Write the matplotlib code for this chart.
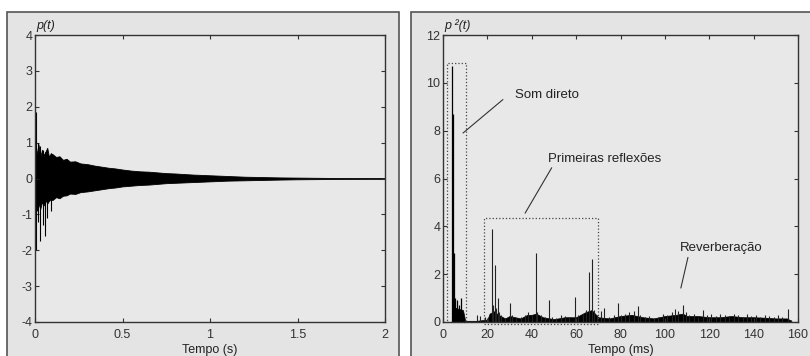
import matplotlib
matplotlib.use("Agg")
import matplotlib.pyplot as plt
from matplotlib.patches import Rectangle

plt.rcParams['font.family'] = ['Liberation Sans', 'DejaVu Sans']
plt.rcParams['axes.unicode_minus'] = False

# ---------------- Left panel data: p(t) impulse response envelope ----------------
t_env = [0, 0.01, 0.02, 0.03, 0.04, 0.05, 0.06, 0.07, 0.08, 0.09, 0.1, 0.12, 0.14,
         0.16, 0.18, 0.2, 0.23, 0.26, 0.3, 0.34, 0.38, 0.42, 0.46, 0.5, 0.55, 0.6,
         0.65, 0.7, 0.75, 0.8, 0.9, 1.0, 1.1, 1.2, 1.3, 1.4, 1.5, 1.6, 1.7, 1.8, 1.9, 2.0]
p_upper = [0.55, 0.7, 0.95, 0.6, 0.8, 0.65, 0.75, 0.85, 0.6, 0.7, 0.68, 0.6, 0.62,
           0.52, 0.55, 0.47, 0.48, 0.42, 0.4, 0.36, 0.33, 0.3, 0.28, 0.25, 0.22, 0.2,
           0.19, 0.17, 0.15, 0.14, 0.11, 0.09, 0.07, 0.05, 0.04, 0.03, 0.025, 0.02,
           0.015, 0.01, 0.008, 0.005]
p_lower = [-0.6, -0.9, -0.7, -0.85, -0.65, -0.75, -0.6, -0.7, -0.62, -0.58, -0.6, -0.52,
           -0.55, -0.48, -0.47, -0.42, -0.43, -0.38, -0.36, -0.33, -0.3, -0.27, -0.25,
           -0.22, -0.2, -0.18, -0.17, -0.15, -0.13, -0.12, -0.1, -0.08, -0.06, -0.05,
           -0.04, -0.03, -0.022, -0.018, -0.013, -0.01, -0.007, -0.005]
spike_t = [0.008, 0.018, 0.03, 0.045, 0.057, 0.07, 0.09]
spike_low = [-2.0, -1.2, -1.75, -1.3, -1.6, -1.1, -0.9]
spike_high = [1.85, 1.0, 0.9, 0.8, 0.75, 0.85, 0.7]

left_xticks = [0, 0.5, 1, 1.5, 2]
left_xticklabels = ["0", "0.5", "1", "1.5", "2"]
left_yticks = [-4, -3, -2, -1, 0, 1, 2, 3, 4]

# ---------------- Right panel data: p^2(t) ----------------
direct_t = [4.2, 4.6, 5.0, 5.5, 6.0, 6.5, 7.0, 7.5, 8.0, 8.5, 9.0]
direct_h = [10.7, 8.7, 2.9, 1.0, 0.6, 0.9, 0.7, 0.5, 1.0, 0.4, 0.3]

refl_t = [13, 15.5, 16.5, 19, 20.5, 21.9, 22.4, 23.4, 24.0, 24.6, 25.3, 26, 28, 30.2,
          31, 33, 35, 37, 38.5, 40, 41.7, 42.5, 44, 46, 47.7, 49, 51, 53, 55, 57, 59.5,
          61, 63, 64.5, 65.8, 67.0, 68, 69.5, 71, 72.5, 75, 77, 78.8, 80, 82, 84, 86,
          87.8, 89, 91, 93, 95, 97, 99, 101, 103, 104.5, 106, 108, 109.5, 111, 113,
          115, 117, 119, 121, 123, 125, 127, 129, 131, 133, 135, 137, 139, 141, 143,
          145, 147, 149, 151, 153, 155.4, 157]
refl_h = [0.05, 0.3, 0.25, 0.2, 0.15, 3.88, 0.7, 2.38, 0.6, 1.0, 0.4, 0.3, 0.15, 0.8,
          0.3, 0.15, 0.2, 0.3, 0.4, 0.3, 2.9, 0.4, 0.3, 0.2, 0.9, 0.2, 0.15, 0.3, 0.25,
          0.2, 1.03, 0.3, 0.35, 0.5, 2.1, 2.62, 0.5, 0.3, 0.45, 0.6, 0.2, 0.3, 0.8,
          0.3, 0.35, 0.4, 0.45, 0.65, 0.3, 0.2, 0.25, 0.15, 0.2, 0.35, 0.3, 0.4, 0.55,
          0.45, 0.7, 0.4, 0.3, 0.35, 0.2, 0.5, 0.3, 0.35, 0.25, 0.35, 0.3, 0.25, 0.35,
          0.3, 0.2, 0.35, 0.25, 0.3, 0.2, 0.3, 0.25, 0.2, 0.3, 0.2, 0.54, 0.1]

floor_t = [4, 5, 9, 10, 15, 20, 21, 23, 25, 28, 30, 35, 38, 40, 42, 45, 50, 55, 60, 64,
           67, 70, 75, 80, 85, 90, 95, 100, 105, 108, 110, 115, 120, 125, 130, 135,
           140, 145, 150, 155, 157]
floor_h = [0.8, 0.6, 0.5, 0.05, 0.05, 0.1, 0.35, 0.45, 0.3, 0.15, 0.25, 0.15, 0.3, 0.3,
           0.35, 0.2, 0.12, 0.2, 0.2, 0.4, 0.5, 0.2, 0.15, 0.25, 0.3, 0.2, 0.15, 0.25,
           0.3, 0.35, 0.25, 0.25, 0.2, 0.2, 0.25, 0.2, 0.2, 0.18, 0.15, 0.15, 0.05]

right_xticks = [0, 20, 40, 60, 80, 100, 120, 140, 160]
right_yticks = [0, 2, 4, 6, 8, 10, 12]

# ---------------- Figure ----------------
W, H = 810, 356
fig = plt.figure(figsize=(W / 100, H / 100), dpi=100, facecolor='white')

bg = '#e4e4e4'
# panel boxes (behind the axes)
fig.patches.append(Rectangle((7 / W, -0.01), 392 / W, (H - 12) / H + 0.01,
                             transform=fig.transFigure, facecolor=bg,
                             edgecolor='#555555', linewidth=1.2, zorder=-5))
fig.patches.append(Rectangle((411 / W, -0.01), 400 / W, (H - 12) / H + 0.01,
                             transform=fig.transFigure, facecolor=bg,
                             edgecolor='#555555', linewidth=1.2, zorder=-5))

axL = fig.add_axes([35 / W, (H - 322) / H, 350 / W, 287 / H])
axR = fig.add_axes([443 / W, (H - 322) / H, 355 / W, 287 / H])

for ax in (axL, axR):
    ax.set_zorder(1)
    ax.set_facecolor('#e8e8e8')
    for s in ax.spines.values():
        s.set_color('#333333')
        s.set_linewidth(1.0)
    ax.tick_params(direction='in', top=True, right=True, length=3, width=0.8,
                   labelsize=9, colors='#333333', pad=2)
    ax.tick_params(axis='x', pad=5)

# Left
axL.fill_between(t_env, p_lower, p_upper, color='black', linewidth=0.6)
axL.vlines(spike_t, spike_low, spike_high, color='black', linewidth=0.8)
axL.set_xlim(0, 2)
axL.set_ylim(-4, 4)
axL.set_xticks(left_xticks)
axL.set_xticklabels(left_xticklabels)
axL.set_yticks(left_yticks)
axL.set_xlabel('Tempo (s)', fontsize=9, labelpad=2, color='#222222')
axL.text(0.005, 1.012, 'p(t)', transform=axL.transAxes, fontsize=9,
         fontstyle='italic', ha='left', va='bottom', color='#222222')

# Right
axR.fill_between(floor_t, 0, floor_h, color='black', linewidth=0.5)
axR.vlines(direct_t, 0, direct_h, color='black', linewidth=0.9)
axR.vlines(refl_t, 0, refl_h, color='#222222', linewidth=0.8)
axR.set_xlim(0, 160)
axR.set_ylim(0, 12)
axR.set_xticks(right_xticks)
axR.set_yticks(right_yticks)
axR.set_xlabel('Tempo (ms)', fontsize=9, labelpad=2, color='#222222')
axR.text(0.005, 1.012, 'p ²(t)', transform=axR.transAxes, fontsize=9,
         fontstyle='italic', ha='left', va='bottom', color='#222222')

# dotted boxes
axR.add_patch(Rectangle((1.7, 0), 8.5, 10.85, fill=False, linestyle=':',
                        edgecolor='#444444', linewidth=0.9, clip_on=False))
axR.add_patch(Rectangle((18.5, -0.1), 51.2, 4.44, fill=False, linestyle=':',
                        edgecolor='#444444', linewidth=0.9, clip_on=False))

# annotations
ann = dict(arrowstyle='-', color='#333333', lw=0.8, shrinkA=0, shrinkB=0)
axR.annotate('', xy=(9.0, 7.9), xytext=(27, 9.3), arrowprops=ann)
axR.text(32.4, 9.5, 'Som direto', fontsize=9.5, va='center', ha='left', color='#222222')
axR.annotate('', xy=(37, 4.55), xytext=(49, 6.45), arrowprops=ann)
axR.text(47.2, 6.8, 'Primeiras reflexões', fontsize=9.5, va='center', ha='left',
         color='#222222')
axR.annotate('', xy=(107.2, 1.42), xytext=(110.4, 2.7), arrowprops=ann)
axR.text(106.8, 3.1, 'Reverberação', fontsize=9.5, va='center', ha='left',
         color='#222222')

fig.savefig('out.png', dpi=100, facecolor='white')
